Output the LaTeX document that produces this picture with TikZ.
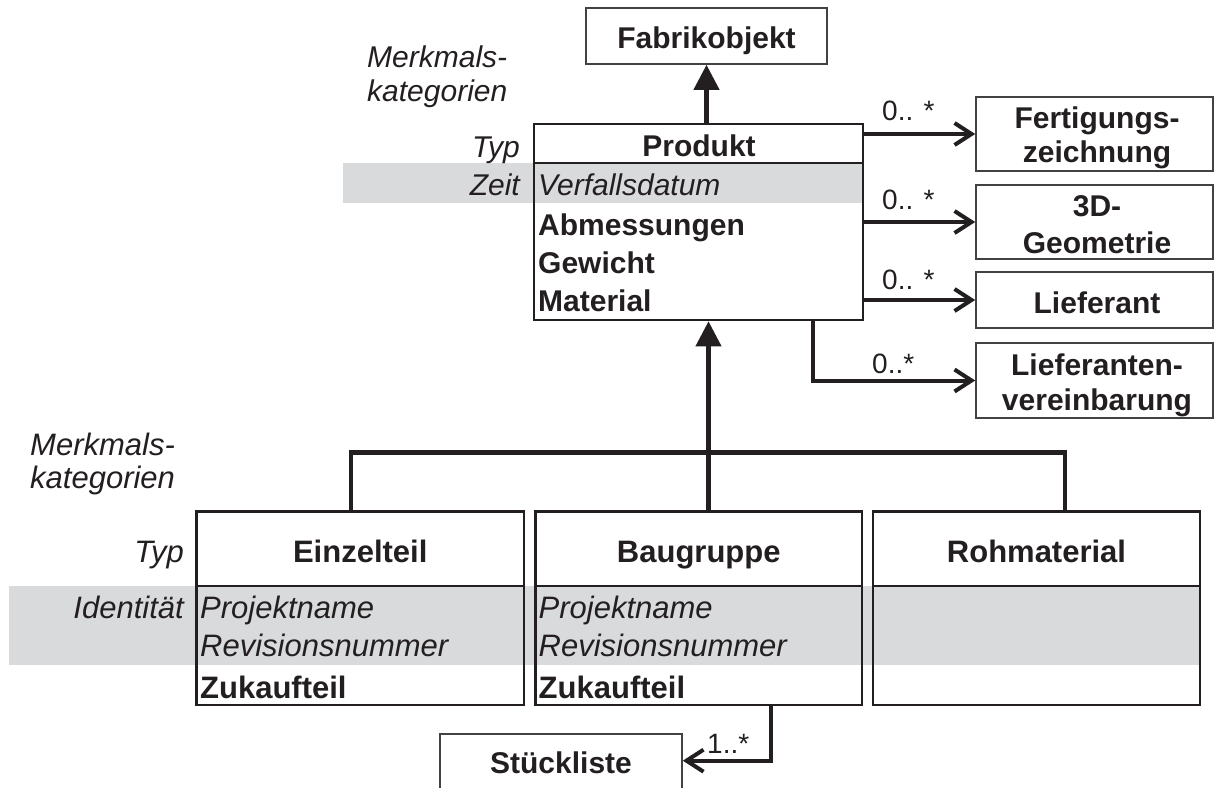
\documentclass[tikz,border=0pt]{standalone}
\usepackage{fontspec}
\setmainfont{Liberation Sans}
\usetikzlibrary{arrows.meta}
\definecolor{band}{RGB}{217,218,220}
\definecolor{ink}{RGB}{35,31,32}

\begin{document}
\begin{tikzpicture}[x=1pt,y=-1pt,
  classbox/.style={draw=ink, line width=2.6pt, inner sep=0pt, rectangle},
  thinbox/.style={draw=ink!85, line width=1.6pt, inner sep=0pt, rectangle},
  rule/.style={draw=ink, line width=2.2pt},
  upit/.style={inner sep=0pt, text=ink, font=\fontsize{30}{36}\selectfont\itshape},
  upbf/.style={inner sep=0pt, text=ink, font=\fontsize{30}{36}\selectfont\bfseries},
  loit/.style={inner sep=0pt, text=ink, font=\fontsize{31}{37}\selectfont\itshape},
  lobf/.style={inner sep=0pt, text=ink, font=\fontsize{31}{37}\selectfont\bfseries},
  mult/.style={inner sep=0pt, text=ink, font=\fontsize{28}{34}\selectfont},
  assoc/.style={draw=ink, line width=4pt, -{Straight Barb[length=17pt,width=22pt]}},
  inherit/.style={draw=ink, line width=4.2pt, -{Triangle[length=25pt,width=25pt]}},
  genbar/.style={draw=ink, line width=4.5pt}
]
\clip (0,0) rectangle (1215,787);

% grey bands of the feature categories
\fill[band] (343,163) rectangle (863,203);
\fill[band] (9,585.7) rectangle (1200,664.5);

% class boxes
\node[thinbox, minimum width=241pt, minimum height=56pt] (fab) at (706.5,36) {};
\node[classbox, minimum width=329pt, minimum height=196pt] (prod) at (698.5,222) {};
\node[thinbox, minimum width=237pt, minimum height=74pt] (fert) at (1094.5,134) {};
\node[thinbox, minimum width=237pt, minimum height=74pt] (geo) at (1094.5,222) {};
\node[thinbox, minimum width=237pt, minimum height=56pt] (lief) at (1094.5,300) {};
\node[thinbox, minimum width=237pt, minimum height=75pt] (liefv) at (1094.5,380.5) {};
\node[classbox, minimum width=327.5pt, minimum height=193.3pt] (ein) at (360.25,608.35) {};
\node[classbox, minimum width=326.5pt, minimum height=193.3pt] (bau) at (698.75,608.35) {};
\node[classbox, minimum width=327pt, minimum height=193.3pt] (roh) at (1036.5,608.35) {};
% the parts-list box runs on below the lower edge
\node[thinbox, minimum width=242pt, minimum height=70pt] (stk) at (561,769) {};

% compartment lines
\coordinate (pdiv) at (0,163);
\coordinate (ldiv) at (0,585.7);
\draw[rule] (prod.west |- pdiv) -- (prod.east |- pdiv);
\draw[rule] (ein.west |- ldiv) -- (ein.east |- ldiv);
\draw[rule] (bau.west |- ldiv) -- (bau.east |- ldiv);
\draw[rule] (roh.west |- ldiv) -- (roh.east |- ldiv);

% generalisation
\draw[inherit] (prod.north -| fab.south) -- (fab.south);
\coordinate (gl) at (351,452.5);
\coordinate (gm) at (708.5,452.5);
\coordinate (gr) at (1065,452.5);
\draw[genbar] (ein.north -| gl) -- (gl) -- (gr) -- (roh.north -| gr);
\draw[inherit] (bau.north -| gm) -- (prod.south -| gm);

% associations
\coordinate (lv) at (813,0);
\coordinate (sk) at (770.5,0);
\coordinate (sky) at (0,760.7);
\draw[assoc] (prod.east |- fert.west) -- (fert.west);
\draw[assoc] (prod.east |- geo.west) -- (geo.west);
\draw[assoc] (prod.east |- lief.west) -- (lief.west);
\draw[assoc] (prod.south -| lv) |- (liefv.west);
\draw[assoc] (bau.south -| sk) |- (stk.east |- sky);

% multiplicities
\node[mult, anchor=base west] (m1) at (882,120) {0.. *};
\node[mult, anchor=base west] (m2) at (882,209) {0.. *};
\node[mult, anchor=base west] (m3) at (882,289) {0.. *};
\node[mult, anchor=base west] (m4) at (872,373) {0..*};
\node[mult, anchor=base west] (m5) at (707,753) {1..*};

% upper part texts
\node[upbf, anchor=base] (tfab) at (706.5,48) {Fabrikobjekt};
\node[upit, anchor=base west] (mka) at (367,67) {Merkmals-};
\node[upit, anchor=base west] (mkb) at (367,101) {kategorien};
\node[upit, anchor=base east] (typa) at (520,157) {Typ};
\node[upit, anchor=base east] (zeit) at (520,195) {Zeit};
\node[upbf, anchor=base] (tprod) at (699,156) {Produkt};
\node[upit, anchor=base west] (pa) at (538,195) {Verfallsdatum};
\node[upbf, anchor=base west] (pb) at (538,235) {Abmessungen};
\node[upbf, anchor=base west] (pc) at (538,273) {Gewicht};
\node[upbf, anchor=base west] (pd) at (538,311) {Material};

% associated classes
\node[upbf, anchor=base] (fa) at (1097,128) {Fertigungs-};
\node[upbf, anchor=base] (fb) at (1097,162) {zeichnung};
\node[upbf, anchor=base] (ga) at (1097,216) {3D-};
\node[upbf, anchor=base] (gb) at (1097,253) {Geometrie};
\node[upbf, anchor=base] (la) at (1097,313) {Lieferant};
\node[upbf, anchor=base] (va) at (1097,375) {Lieferanten-};
\node[upbf, anchor=base] (vb) at (1097,410) {vereinbarung};

% lower part texts
\node[loit, anchor=base west] (mkc) at (30,455) {Merkmals-};
\node[loit, anchor=base west] (mkd) at (30,488) {kategorien};
\node[loit, anchor=base east] (typb) at (184,562) {Typ};
\node[loit, anchor=base east] (ident) at (184,618) {Identität};
\node[lobf, anchor=base] (tein) at (360.25,562) {Einzelteil};
\node[lobf, anchor=base] (tbau) at (698.75,562) {Baugruppe};
\node[lobf, anchor=base] (troh) at (1036.5,562) {Rohmaterial};
\node[loit, anchor=base west] (ea) at (200,618) {Projektname};
\node[loit, anchor=base west] (eb) at (200,656) {Revisionsnummer};
\node[lobf, anchor=base west] (ec) at (200,698) {Zukaufteil};
\node[loit, anchor=base west] (ba) at (538.5,618) {Projektname};
\node[loit, anchor=base west] (bb) at (538.5,656) {Revisionsnummer};
\node[lobf, anchor=base west] (bc) at (538.5,698) {Zukaufteil};
\node[upbf, anchor=base] (tstk) at (561,773) {Stückliste};
\end{tikzpicture}
\end{document}
